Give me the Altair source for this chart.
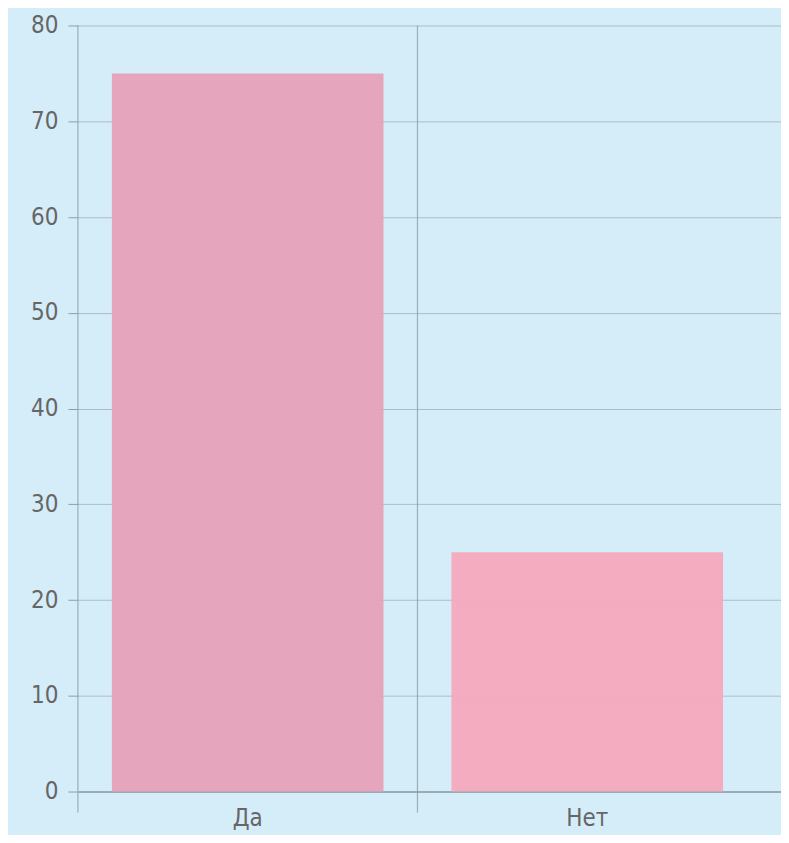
import altair as alt
import pandas as pd

categories = ["Да", "Нет"]
values = [75, 25]
bar_colors = ["#e6a2b9", "#f4a9bd"]

df = pd.DataFrame({"cat": categories, "val": values})

W = 704
H = 767
FONT = "DejaVu Sans Condensed, Liberation Sans Narrow, Roboto, sans-serif"

xscale = alt.Scale(domain=categories, paddingInner=0.2, paddingOuter=0.1353, align=0.3696)

bars = alt.Chart(df).mark_bar(opacity=0.95).encode(
    x=alt.X("cat:N", scale=xscale, sort=categories,
            axis=alt.Axis(title=None, labelAngle=0, labelAlign="center", ticks=False, domain=True,
                          domainColor="#8f9ea6", domainWidth=1.5,
                          labelFont=FONT, labelFontSize=24, labelColor="#666666",
                          labelPadding=27, grid=False)),
    y=alt.Y("val:Q", scale=alt.Scale(domain=[0, 80], nice=False),
            axis=alt.Axis(title=None, values=[0, 10, 20, 30, 40, 50, 60, 70, 80],
                          tickSize=10, tickColor="#8f9ea6", domain=False,
                          grid=True, gridColor="#8f9ea6", gridOpacity=0.6,
                          labelFont=FONT, labelFontSize=24, labelColor="#666666",
                          labelPadding=10)),
    color=alt.Color("cat:N", scale=alt.Scale(domain=categories, range=bar_colors), legend=None),
)

vlines = alt.Chart(df).mark_rule(color="#8f9ea6", strokeWidth=1.2, opacity=0.8).encode(
    x=alt.X("cat:N", scale=xscale, sort=categories, bandPosition=0),
    xOffset=alt.value(-34),
    y=alt.value(0),
    y2=alt.value(H + 21),
)

chart = alt.layer(vlines, bars).properties(
    width=W, height=H,
    autosize=alt.AutoSizeParams(type="none"),
    padding={"left": 70, "top": 17, "right": 0, "bottom": 43},
    background="#d5edf9",
).configure_view(stroke=None)

chart.save("out.html", embed_options={"renderer": "svg", "actions": False})
